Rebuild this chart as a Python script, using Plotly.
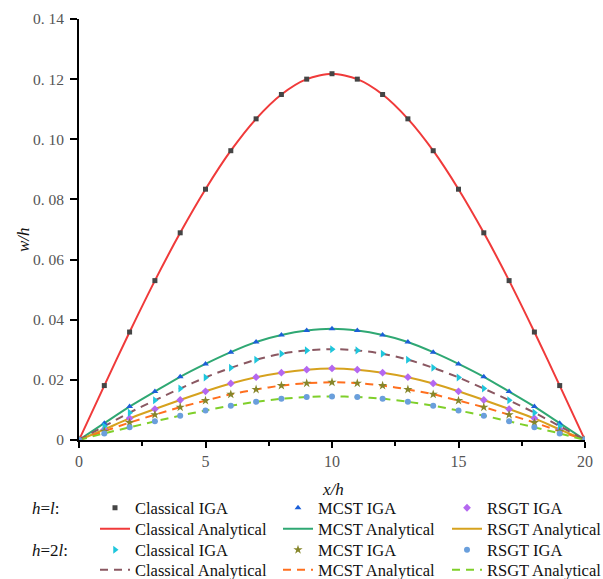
import plotly.graph_objects as go

x_vals = list(range(0, 21))

classical_hl = [0, 0.0181, 0.0359, 0.0530, 0.0689, 0.0834, 0.0962, 0.1068, 0.1149, 0.1200, 0.1218,
                0.1200, 0.1149, 0.1068, 0.0962, 0.0834, 0.0689, 0.0530, 0.0359, 0.0181, 0]
mcst_hl = [0, 0.0056, 0.0111, 0.0161, 0.0210, 0.0253, 0.0292, 0.0326, 0.0349, 0.0364, 0.0370,
           0.0364, 0.0349, 0.0326, 0.0292, 0.0253, 0.0210, 0.0161, 0.0111, 0.0056, 0]
rsgt_hl = [0, 0.0035, 0.0072, 0.0103, 0.0133, 0.0162, 0.0188, 0.0209, 0.0224, 0.0234, 0.0238,
           0.0234, 0.0224, 0.0209, 0.0188, 0.0162, 0.0133, 0.0103, 0.0072, 0.0035, 0]
classical_h2l = [0, 0.0046, 0.0091, 0.0132, 0.0171, 0.0208, 0.0240, 0.0267, 0.0287, 0.0298, 0.0302,
                 0.0298, 0.0287, 0.0267, 0.0240, 0.0208, 0.0171, 0.0132, 0.0091, 0.0046, 0]
mcst_h2l = [0, 0.0029, 0.0058, 0.0084, 0.0109, 0.0131, 0.0152, 0.0168, 0.0181, 0.0189, 0.0192,
            0.0189, 0.0181, 0.0168, 0.0152, 0.0131, 0.0109, 0.0084, 0.0058, 0.0029, 0]
rsgt_h2l = [0, 0.0022, 0.0042, 0.0062, 0.0081, 0.0098, 0.0114, 0.0127, 0.0137, 0.0143, 0.0145,
            0.0143, 0.0137, 0.0127, 0.0114, 0.0098, 0.0081, 0.0062, 0.0042, 0.0022, 0]

x_ticks = [0, 5, 10, 15, 20]
y_ticks = [0, 0.02, 0.04, 0.06, 0.08, 0.10, 0.12, 0.14]
y_ticktext = ["0", "0. 02", "0. 04", "0. 06", "0. 08", "0. 10", "0. 12", "0. 14"]

FONT = "Liberation Serif, Times New Roman, serif"
W, H = 603, 579
ML, MR, MT, MB = 79, 18, 19, 139

fig = go.Figure()

lines = [
    ("Classical Analytical", classical_hl, "#f03a3a", "solid", 0, 1),
    ("MCST Analytical", mcst_hl, "#2fa873", "solid", 1, 1),
    ("RSGT Analytical", rsgt_hl, "#d6a21e", "solid", 2, 1),
    ("Classical Analytical", classical_h2l, "#8a5862", "8px,6px", 0, 3),
    ("MCST Analytical", mcst_h2l, "#ff6f1e", "8px,6px", 1, 3),
    ("RSGT Analytical", rsgt_h2l, "#7fcf2a", "8px,6px", 2, 3),
]
markers = [
    ("Classical IGA", classical_hl, "#454545", "square", 5, 0, 0),
    ("MCST IGA", mcst_hl, "#1c5fd8", "triangle-up", 6, 1, 0),
    ("RSGT IGA", rsgt_hl, "#b468f0", "diamond", 6, 2, 0),
    ("Classical IGA", classical_h2l, "#1ec6dc", "triangle-right", 7, 0, 2),
    ("MCST IGA", mcst_h2l, "#86862a", "star", 7, 1, 2),
    ("RSGT IGA", rsgt_h2l, "#6a9fdc", "circle", 6, 2, 2),
]

col_x = [95, 278, 447]
row_y = [508, 529, 550, 570]

legend_layouts = {}
counter = [0]


def next_legend(col, row):
    counter[0] += 1
    k = counter[0]
    key = "legend" if k == 1 else f"legend{k}"
    legend_layouts[key] = dict(
        x=col_x[col] / W, y=1 - row_y[row] / H, xref="container", yref="container",
        xanchor="left", yanchor="middle", bgcolor="rgba(0,0,0,0)", borderwidth=0,
        font=dict(family=FONT, size=16.5, color="#111"),
    )
    return key


for name, data, color, dash, col, row in lines:
    fig.add_trace(go.Scatter(
        x=x_vals, y=data, mode="lines", name=name,
        line=dict(color=color, width=2, dash=dash, shape="spline", smoothing=0.8),
        legend=next_legend(col, row),
    ))

for name, data, color, symbol, size, col, row in markers:
    fig.add_trace(go.Scatter(
        x=x_vals, y=data, mode="markers", name=name,
        marker=dict(color=color, symbol=symbol, size=size, line=dict(width=0)),
        legend=next_legend(col, row),
    ))

plot_w = W - ML - MR
plot_h = H - MT - MB


def paper_xy(px, py):
    return (px - ML) / plot_w, (H - MB - py) / plot_h


ann = []
for text, (px, py), anchor, angle in [
    ("<i>h</i>=<i>l</i>:", (30, 508), "left", 0),
    ("<i>h</i>=2<i>l</i>:", (30, 550), "left", 0),
    ("<i>x/h</i>", (333, 489), "center", 0),
    ("<i>w/h</i>", (23, 240), "center", -90),
]:
    ax, ay = paper_xy(px, py)
    ann.append(dict(text=text, x=ax, y=ay, xref="paper", yref="paper",
                    xanchor=anchor, yanchor="middle", showarrow=False, textangle=angle,
                    font=dict(family=FONT, size=17, color="#111")))

fig.update_layout(
    width=W, height=H,
    margin=dict(l=ML, r=MR, t=MT, b=MB, autoexpand=False),
    paper_bgcolor="white", plot_bgcolor="white",
    font=dict(family=FONT, size=15, color="#555"),
    xaxis=dict(
        range=[0, 20], tickvals=x_ticks, showgrid=False, zeroline=False,
        showline=True, linecolor="black", linewidth=2,
        ticks="outside", ticklen=6, tickwidth=2, tickcolor="black",
        tickfont=dict(family=FONT, size=16, color="#555"),
        minor=dict(tickvals=[2.5, 7.5, 12.5, 17.5], ticks="outside", ticklen=4, tickwidth=2, tickcolor="black"),
    ),
    yaxis=dict(
        range=[0, 0.14], tickvals=y_ticks, ticktext=y_ticktext, showgrid=False, zeroline=False,
        showline=True, linecolor="black", linewidth=2,
        ticks="outside", ticklen=7, tickwidth=2, tickcolor="black", ticklabelstandoff=3,
        tickfont=dict(family=FONT, size=15.5, color="#555"),
    ),
    showlegend=True,
    annotations=ann,
    **legend_layouts,
)

fig.write_html("out.html")
